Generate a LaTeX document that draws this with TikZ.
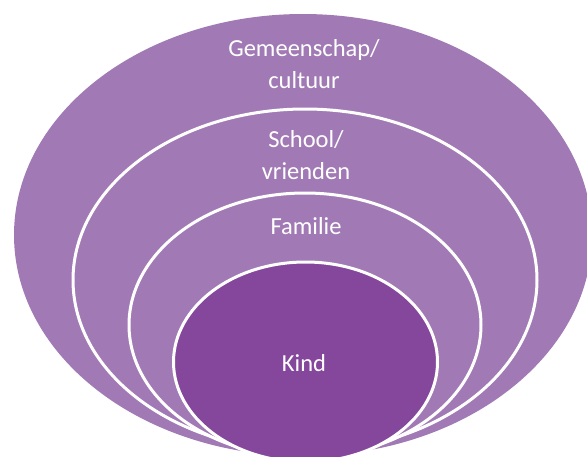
\documentclass[tikz,border=0pt]{standalone}
\usepackage{fontspec}
\setmainfont{Carlito}
\definecolor{lightpurple}{RGB}{161,122,181}
\definecolor{darkpurple}{RGB}{132,71,155}
\tikzset{
  ring/.style={fill=lightpurple, draw=white, line width=3pt},
  core/.style={fill=darkpurple, draw=white, line width=3pt},
  lbl/.style={text=white, font=\fontsize{24.5}{32}\selectfont, align=center, inner sep=0pt}
}
\begin{document}
\begin{tikzpicture}[x=1pt,y=-1pt]
\useasboundingbox (0,0) rectangle (587,456);
\clip (0,0) rectangle (587,456);
\fill[lightpurple] (303,235) ellipse [x radius=289, y radius=221];
\draw[ring] (305,280) ellipse [x radius=232, y radius=171];
\draw[ring] (305,325) ellipse [x radius=176, y radius=132];
\draw[core] (305.5,362) ellipse [x radius=132, y radius=100];
\node[lbl] (gem) at (304,64) {Gemeenschap/\\cultuur};
\node[lbl] (sch) at (306,155) {School/\\vrienden};
\node[lbl] (fam) at (306,226) {Familie};
\node[lbl] (kind) at (304,363) {Kind};
\end{tikzpicture}
\end{document}
